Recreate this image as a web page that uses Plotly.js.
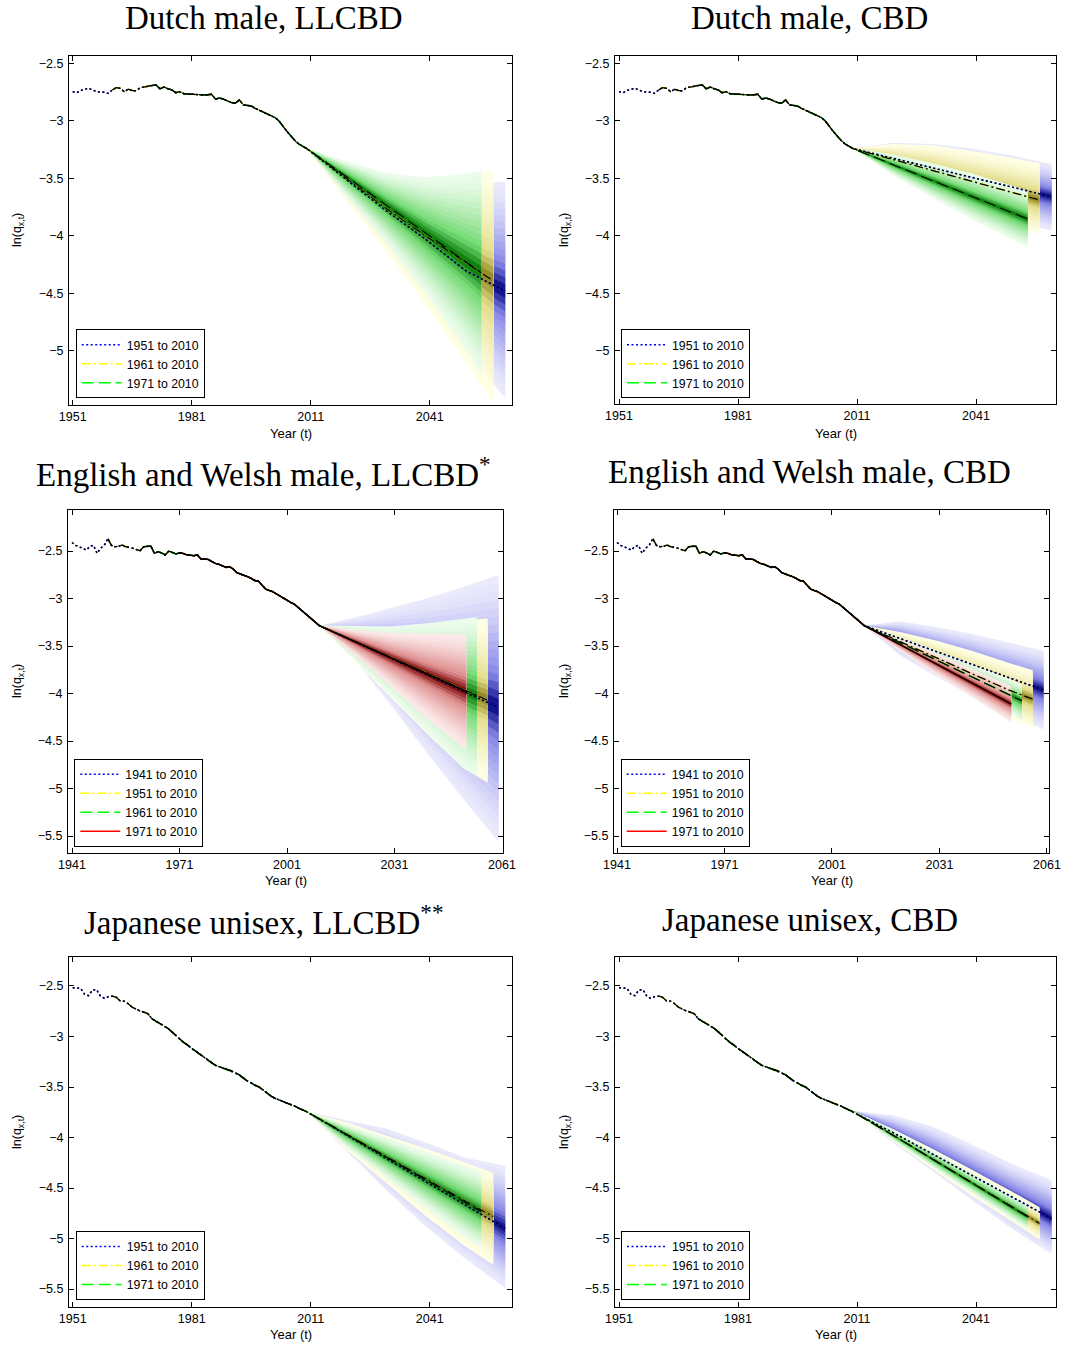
<!DOCTYPE html>
<html><head><meta charset="utf-8">
<script src="https://cdn.plot.ly/plotly-3.0.1.min.js"></script>
<style>html,body{margin:0;padding:0;background:#fff}</style>
</head><body><div id="chart" style="width:1065px;height:1347px"></div>
<script>
// ================= DATA =================
// Observed ln(q_x,t), one value per year up to 2010
const dutchStart = 1951;
const dutchHist = [-2.745,-2.755,-2.735,-2.725,-2.715,-2.73,-2.745,-2.748,-2.75,-2.76,
  -2.73,-2.71,-2.716,-2.745,-2.724,-2.735,-2.739,-2.71,-2.705,-2.696,
  -2.69,-2.687,-2.72,-2.705,-2.72,-2.73,-2.754,-2.745,-2.763,-2.766,
  -2.768,-2.77,-2.772,-2.774,-2.772,-2.768,-2.81,-2.80,-2.81,-2.826,
  -2.84,-2.846,-2.817,-2.86,-2.865,-2.87,-2.89,-2.905,-2.92,-2.94,
  -2.955,-2.97,-3.00,-3.05,-3.09,-3.13,-3.17,-3.20,-3.22,-3.24];
const ewStart = 1941;
const ewHist = [-2.41,-2.44,-2.455,-2.475,-2.49,-2.45,-2.44,-2.524,-2.47,-2.44,
  -2.37,-2.44,-2.455,-2.45,-2.437,-2.455,-2.46,-2.47,-2.485,-2.497,
  -2.455,-2.45,-2.447,-2.524,-2.507,-2.52,-2.542,-2.50,-2.515,-2.53,
  -2.52,-2.525,-2.54,-2.545,-2.549,-2.542,-2.584,-2.585,-2.588,-2.61,
  -2.63,-2.64,-2.655,-2.672,-2.665,-2.69,-2.728,-2.74,-2.753,-2.77,
  -2.788,-2.81,-2.816,-2.86,-2.90,-2.915,-2.928,-2.95,-2.974,-2.995,
  -3.016,-3.04,-3.058,-3.09,-3.121,-3.15,-3.19,-3.22,-3.25,-3.285];
const japanStart = 1951;
const japanHist = [-2.517,-2.523,-2.523,-2.582,-2.596,-2.54,-2.535,-2.60,-2.622,-2.606,
  -2.60,-2.612,-2.649,-2.65,-2.675,-2.71,-2.73,-2.748,-2.76,-2.775,
  -2.825,-2.85,-2.87,-2.893,-2.92,-2.952,-2.99,-3.03,-3.06,-3.085,
  -3.12,-3.145,-3.175,-3.2,-3.23,-3.26,-3.285,-3.30,-3.31,-3.325,
  -3.338,-3.36,-3.38,-3.41,-3.44,-3.46,-3.485,-3.5,-3.53,-3.562,
  -3.59,-3.612,-3.627,-3.638,-3.655,-3.675,-3.69,-3.71,-3.73,-3.745];

// Projection years (fan end differs per fitting period)
const yrsTo2060 = [2010,2020,2030,2040,2050,2060];
const yrsTo2057 = [2010,2020,2030,2040,2050,2057];
const yrsTo2054 = [2010,2020,2030,2040,2050,2054];
const yrsTo2051 = [2010,2020,2030,2040,2051];

// Panel 1: Dutch male, LLCBD  (median, outer upper, outer lower)
const p1BlueMed = [-3.24,-3.51,-3.78,-4.03,-4.3,-4.48];
const p1BlueUp  = [-3.24,-3.36,-3.45,-3.52,-3.54,-3.53];
const p1BlueLo  = [-3.24,-3.63,-4.05,-4.5,-5.0,-5.41];
const p1YelMed  = [-3.24,-3.5,-3.76,-4.0,-4.23,-4.39];
const p1YelUp   = [-3.24,-3.35,-3.45,-3.5,-3.46,-3.43];
const p1YelLo   = [-3.24,-3.7,-4.13,-4.6,-5.1,-5.45];
const p1GrnMed  = [-3.24,-3.485,-3.73,-3.976,-4.222,-4.32];
const p1GrnUp   = [-3.24,-3.35,-3.45,-3.49,-3.46,-3.43];
const p1GrnLo   = [-3.24,-3.66,-4.06,-4.5,-4.98,-5.21];
// Panel 2: Dutch male, CBD
const p2BlueMed = [-3.24,-3.324,-3.407,-3.491,-3.574,-3.658];
const p2BlueUp  = [-3.24,-3.19,-3.2,-3.24,-3.3,-3.374];
const p2BlueLo  = [-3.24,-3.44,-3.6,-3.74,-3.86,-3.954];
const p2YelMed  = [-3.24,-3.335,-3.43,-3.525,-3.62,-3.687];
const p2YelUp   = [-3.24,-3.2,-3.21,-3.26,-3.32,-3.368];
const p2YelLo   = [-3.24,-3.46,-3.63,-3.78,-3.91,-3.985];
const p2GrnMed  = [-3.24,-3.379,-3.518,-3.657,-3.796,-3.852];
const p2GrnUp   = [-3.24,-3.289,-3.368,-3.457,-3.561,-3.607];
const p2GrnLo   = [-3.24,-3.469,-3.668,-3.857,-4.031,-4.097];
// Panel 3: English and Welsh male, LLCBD*
const p3BlueMed = [-3.285,-3.457,-3.629,-3.801,-3.973,-4.145];
const p3BlueUp  = [-3.285,-3.2,-3.1,-3.0,-2.88,-2.753];
const p3BlueLo  = [-3.285,-3.65,-4.12,-4.62,-5.1,-5.56];
const p3YelMed  = [-3.285,-3.452,-3.619,-3.786,-3.953,-4.07];
const p3YelUp   = [-3.285,-3.3,-3.3,-3.27,-3.23,-3.21];
const p3YelLo   = [-3.285,-3.66,-4.04,-4.42,-4.78,-4.94];
const p3GrnMed  = [-3.285,-3.454,-3.624,-3.793,-3.962,-4.03];
const p3GrnUp   = [-3.285,-3.29,-3.295,-3.26,-3.215,-3.198];
const p3GrnLo   = [-3.285,-3.65,-4.02,-4.4,-4.78,-4.87];
const p3RedMed  = [-3.285,-3.455,-3.624,-3.794,-3.98];
const p3RedUp   = [-3.285,-3.33,-3.36,-3.37,-3.37];
const p3RedLo   = [-3.285,-3.6,-3.93,-4.26,-4.6];
// Panel 4: English and Welsh male, CBD
const p4BlueMed = [-3.285,-3.421,-3.556,-3.692,-3.828,-3.963];
const p4BlueUp  = [-3.285,-3.24,-3.3,-3.37,-3.46,-3.55];
const p4BlueLo  = [-3.285,-3.6,-3.82,-4.02,-4.2,-4.38];
const p4YelMed  = [-3.285,-3.453,-3.621,-3.79,-3.958,-4.06];
const p4YelUp   = [-3.285,-3.353,-3.441,-3.55,-3.673,-3.755];
const p4YelLo   = [-3.285,-3.553,-3.801,-4.03,-4.243,-4.365];
const p4GrnMed  = [-3.285,-3.465,-3.645,-3.825,-4.0,-4.076];
const p4GrnUp   = [-3.285,-3.405,-3.545,-3.69,-3.84,-3.906];
const p4GrnLo   = [-3.285,-3.53,-3.76,-3.98,-4.19,-4.29];
const p4RedMed  = [-3.285,-3.486,-3.687,-3.888,-4.11];
const p4RedUp   = [-3.285,-3.426,-3.577,-3.738,-3.92];
const p4RedLo   = [-3.285,-3.546,-3.797,-4.038,-4.3];
// Panel 5: Japanese unisex, LLCBD**
const p5BlueMed = [-3.745,-3.976,-4.207,-4.438,-4.669,-4.9];
const p5BlueUp  = [-3.745,-3.83,-3.91,-4.05,-4.2,-4.28];
const p5BlueLo  = [-3.745,-4.13,-4.52,-4.88,-5.2,-5.49];
const p5YelMed  = [-3.745,-3.966,-4.187,-4.408,-4.629,-4.784];
const p5YelUp   = [-3.745,-3.85,-3.98,-4.11,-4.25,-4.35];
const p5YelLo   = [-3.745,-4.12,-4.45,-4.78,-5.08,-5.26];
const p5GrnMed  = [-3.745,-3.97,-4.195,-4.419,-4.644,-4.734];
const p5GrnUp   = [-3.745,-3.87,-4.0,-4.14,-4.28,-4.338];
const p5GrnLo   = [-3.745,-4.1,-4.4,-4.7,-4.99,-5.097];
// Panel 6: Japanese unisex, CBD
const p6BlueMed = [-3.738,-3.95,-4.163,-4.375,-4.588,-4.8];
const p6BlueUp  = [-3.738,-3.78,-3.89,-4.07,-4.26,-4.42];
const p6BlueLo  = [-3.738,-4.05,-4.33,-4.62,-4.9,-5.153];
const p6YelMed  = [-3.738,-3.975,-4.211,-4.448,-4.684,-4.85];
const p6YelUp   = [-3.738,-3.915,-4.111,-4.318,-4.534,-4.69];
const p6YelLo   = [-3.738,-4.035,-4.311,-4.578,-4.834,-5.01];
const p6GrnMed  = [-3.738,-3.976,-4.213,-4.451,-4.689,-4.784];
const p6GrnUp   = [-3.738,-3.926,-4.133,-4.351,-4.569,-4.659];
const p6GrnLo   = [-3.738,-4.026,-4.293,-4.551,-4.809,-4.909];

// Tick values and labels
const xTicksA = [1951,1981,2011,2041];
const xTicksB = [1941,1971,2001,2031,2061];
const yTicksA = [-2.5,-3,-3.5,-4,-4.5,-5];
const yTicksB = [-2.5,-3,-3.5,-4,-4.5,-5,-5.5];
const panelTitles = ['Dutch male, LLCBD','Dutch male, CBD',
  'English and Welsh male, LLCBD<sup>*</sup>','English and Welsh male, CBD',
  'Japanese unisex, LLCBD<sup>**</sup>','Japanese unisex, CBD'];
const labelsA = ['1951 to 2010','1961 to 2010','1971 to 2010'];
const labelsB = ['1941 to 2010','1951 to 2010','1961 to 2010','1971 to 2010'];

// ================= STYLE / LAYOUT =================
const W = 1065, H = 1347;
const SANS = 'Liberation Sans, Arial, sans-serif';
const SERIF = 'Liberation Serif, Times New Roman, serif';
const LINECOL = {blue:'rgb(0,0,255)', yellow:'rgb(255,255,0)', green:'rgb(0,255,0)', red:'rgb(255,0,0)'};
const DASH = {blue:'2px,2.5px', yellow:'9px,3px,2px,3px', green:'12px,5px', red:'solid'};
const SHADES = {
  blue:   [[234,234,252],[135,135,232],[20,20,140]],
  yellow: [[255,255,230],[228,222,140],[150,140,40]],
  green:  [[236,252,236],[115,218,115],[15,130,15]],
  red:    [[252,234,234],[222,140,140],[130,15,15]]
};
const NBANDS = 16;

function range(a, b){ const r = []; for(let v = a; v <= b; v++) r.push(v); return r; }
function shade(stops, t){
  t = Math.pow(t, 1.4);
  const m = 0.7; let a, b, u;
  if(t <= m){ a = stops[0]; b = stops[1]; u = t / m; }
  else { a = stops[1]; b = stops[2]; u = (t - m) / (1 - m); }
  const c = a.map((v, i) => Math.round(v + (b[i] - v) * u));
  return 'rgb(' + c.join(',') + ')';
}

function S(color, label, histStart, hist, startYear, yrs, med, up, lo){
  return {color, label, histStart, hist, startYear, yrs, med, up, lo};
}

const panels = [
  {box:[69,512,56,405], xr:[1950.07,2061.74], yr:[-5.47,-2.435], xt:xTicksA, yt:yTicksA,
   tpos:[263.5,18], ylab:[18,230], xlab:433, leg:[75.7,398.3],
   series:[S('blue',labelsA[0],dutchStart,dutchHist,1951,yrsTo2060,p1BlueMed,p1BlueUp,p1BlueLo),
           S('yellow',labelsA[1],dutchStart,dutchHist,1961,yrsTo2057,p1YelMed,p1YelUp,p1YelLo),
           S('green',labelsA[2],dutchStart,dutchHist,1971,yrsTo2054,p1GrnMed,p1GrnUp,p1GrnLo)]},
  {box:[615,1056,56,404], xr:[1949.99,2061.16], yr:[-5.461,-2.435], xt:xTicksA, yt:yTicksA,
   tpos:[809.5,18], ylab:[565,230], xlab:433, leg:[621,398.3],
   series:[S('blue',labelsA[0],dutchStart,dutchHist,1951,yrsTo2060,p2BlueMed,p2BlueUp,p2BlueLo),
           S('yellow',labelsA[1],dutchStart,dutchHist,1961,yrsTo2057,p2YelMed,p2YelUp,p2YelLo),
           S('green',labelsA[2],dutchStart,dutchHist,1971,yrsTo2054,p2GrnMed,p2GrnUp,p2GrnLo)]},
  {box:[68,503,510,853], xr:[1939.88,2061.28], yr:[-5.679,-2.068], xt:xTicksB, yt:yTicksB,
   tpos:[263.5,472], ylab:[18,681], xlab:880, leg:[74.3,846.7],
   series:[S('blue',labelsB[0],ewStart,ewHist,1941,yrsTo2060,p3BlueMed,p3BlueUp,p3BlueLo),
           S('yellow',labelsB[1],ewStart,ewHist,1951,yrsTo2057,p3YelMed,p3YelUp,p3YelLo),
           S('green',labelsB[2],ewStart,ewHist,1961,yrsTo2054,p3GrnMed,p3GrnUp,p3GrnLo),
           S('red',labelsB[3],ewStart,ewHist,1971,yrsTo2051,p3RedMed,p3RedUp,p3RedLo)]},
  {box:[614,1049,510,853], xr:[1940.16,2061.57], yr:[-5.679,-2.068], xt:xTicksB, yt:yTicksB,
   tpos:[809.5,472], ylab:[565,681], xlab:880, leg:[620.7,846.7],
   series:[S('blue',labelsB[0],ewStart,ewHist,1941,yrsTo2060,p4BlueMed,p4BlueUp,p4BlueLo),
           S('yellow',labelsB[1],ewStart,ewHist,1951,yrsTo2057,p4YelMed,p4YelUp,p4YelLo),
           S('green',labelsB[2],ewStart,ewHist,1961,yrsTo2054,p4GrnMed,p4GrnUp,p4GrnLo),
           S('red',labelsB[3],ewStart,ewHist,1971,yrsTo2051,p4RedMed,p4RedUp,p4RedLo)]},
  {box:[69,512,957,1307], xr:[1950.07,2061.74], yr:[-5.678,-2.213], xt:xTicksA, yt:yTicksB,
   tpos:[263.5,920], ylab:[18,1132], xlab:1334, leg:[75.7,1300],
   series:[S('blue',labelsA[0],japanStart,japanHist,1951,yrsTo2060,p5BlueMed,p5BlueUp,p5BlueLo),
           S('yellow',labelsA[1],japanStart,japanHist,1961,yrsTo2057,p5YelMed,p5YelUp,p5YelLo),
           S('green',labelsA[2],japanStart,japanHist,1971,yrsTo2054,p5GrnMed,p5GrnUp,p5GrnLo)]},
  {box:[615,1056,957,1307], xr:[1949.99,2061.16], yr:[-5.678,-2.213], xt:xTicksA, yt:yTicksB,
   tpos:[809.5,920], ylab:[565,1132], xlab:1334, leg:[621,1300],
   series:[S('blue',labelsA[0],japanStart,japanHist,1951,yrsTo2060,p6BlueMed,p6BlueUp,p6BlueLo),
           S('yellow',labelsA[1],japanStart,japanHist,1961,yrsTo2057,p6YelMed,p6YelUp,p6YelLo),
           S('green',labelsA[2],japanStart,japanHist,1971,yrsTo2054,p6GrnMed,p6GrnUp,p6GrnLo)]}
];

const traces = [];
const layout = {
  width: W, height: H, margin:{l:0,r:0,t:0,b:0},
  paper_bgcolor:'#fff', plot_bgcolor:'#fff', showlegend:true,
  font:{family:SANS, color:'#000'}, annotations:[]
};

panels.forEach((p, idx) => {
  const n = idx + 1;
  const xa = n === 1 ? 'x' : 'x' + n, ya = n === 1 ? 'y' : 'y' + n;
  const legName = n === 1 ? 'legend' : 'legend' + n;
  const axBase = {
    ticks:'inside', ticklen:5, tickwidth:1, tickcolor:'#000',
    showline:true, linecolor:'#000', linewidth:1, mirror:'ticks',
    showgrid:false, zeroline:false, fixedrange:true,
    tickfont:{family:SANS, size:12.5, color:'#000'}
  };
  layout[n === 1 ? 'xaxis' : 'xaxis' + n] = Object.assign({}, axBase, {
    domain:[p.box[0]/W, p.box[1]/W], range:p.xr, anchor:ya,
    tickmode:'array', tickvals:p.xt, ticktext:p.xt.map(String)
  });
  layout[n === 1 ? 'yaxis' : 'yaxis' + n] = Object.assign({}, axBase, {
    domain:[1 - p.box[3]/H, 1 - p.box[2]/H], range:p.yr, anchor:xa,
    tickmode:'array', tickvals:p.yt, ticklabelstandoff:2
  });
  layout[legName] = {
    x:p.leg[0]/W, y:1 - p.leg[1]/H, xanchor:'left', yanchor:'bottom', xref:'paper', yref:'paper',
    bgcolor:'#fff', bordercolor:'#000', borderwidth:1,
    font:{family:SANS, size:12.3, color:'#000'}, tracegroupgap:0, itemwidth:40,
    itemclick:false, itemdoubleclick:false
  };

  // Fan bands (outer to inner, each series drawn over the previous one)
  p.series.forEach(s => {
    for(let i = 0; i < NBANDS; i++){
      const f = (NBANDS - i) / NBANDS;
      const upper = s.med.map((m, j) => m + f * (s.up[j] - m));
      const lower = s.med.map((m, j) => m + f * (s.lo[j] - m));
      traces.push({
        type:'scatter', mode:'lines', xaxis:xa, yaxis:ya,
        x: s.yrs.concat(s.yrs.slice().reverse()),
        y: upper.concat(lower.slice().reverse()),
        fill:'toself', fillcolor: shade(SHADES[s.color], i/(NBANDS-1)),
        line:{width:0}, hoverinfo:'skip', showlegend:false
      });
    }
  });
  // Lines: colored (legend) beneath, black on top
  const lineData = p.series.map(s => {
    const off = s.startYear - s.histStart;
    const hx = range(s.startYear, 2010);
    const hy = s.hist.slice(off);
    return {x: hx.concat(s.yrs.slice(1)), y: hy.concat(s.med.slice(1))};
  });
  p.series.forEach((s, k) => {
    traces.push({type:'scatter', mode:'lines', xaxis:xa, yaxis:ya, legend:legName,
      x:lineData[k].x, y:lineData[k].y, name:s.label, showlegend:true,
      line:{color:LINECOL[s.color], width:1.5, dash:DASH[s.color]}, hoverinfo:'skip'});
  });
  p.series.forEach((s, k) => {
    traces.push({type:'scatter', mode:'lines', xaxis:xa, yaxis:ya,
      x:lineData[k].x, y:lineData[k].y, showlegend:false,
      line:{color:'#000', width:1.35, dash:DASH[s.color]}, hoverinfo:'skip'});
  });

  // Titles and axis labels
  layout.annotations.push({xref:'paper', yref:'paper', x:p.tpos[0]/W, y:1 - p.tpos[1]/H,
    xanchor:'center', yanchor:'middle', showarrow:false, text:panelTitles[idx],
    font:{family:SERIF, size:33, color:'#000'}});
  layout.annotations.push({xref:'paper', yref:'paper', x:(p.box[0]+p.box[1])/2/W, y:1 - p.xlab/H,
    xanchor:'center', yanchor:'middle', showarrow:false, text:'Year (t)',
    font:{family:SANS, size:13, color:'#000'}});
  layout.annotations.push({xref:'paper', yref:'paper', x:p.ylab[0]/W, y:1 - p.ylab[1]/H,
    xanchor:'center', yanchor:'middle', showarrow:false, textangle:-90,
    text:'ln(q<sub>x,t</sub>)', font:{family:SANS, size:12.5, color:'#000'}});
});

Plotly.newPlot('chart', traces, layout, {staticPlot:true, displayModeBar:false});
</script>
</body></html>
